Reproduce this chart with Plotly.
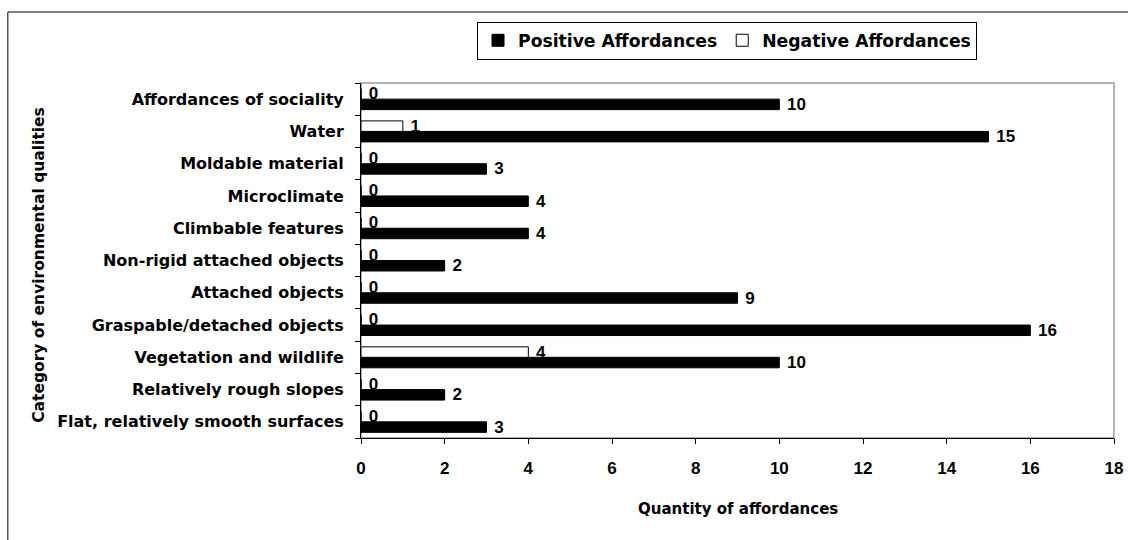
import plotly.graph_objects as go

categories = [
    "Flat, relatively smooth surfaces",
    "Relatively rough slopes",
    "Vegetation and wildlife",
    "Graspable/detached objects",
    "Attached objects",
    "Non-rigid attached objects",
    "Climbable features",
    "Microclimate",
    "Moldable material",
    "Water",
    "Affordances of sociality",
]
positive = [3, 2, 10, 16, 9, 2, 4, 4, 3, 15, 10]
negative = [0, 0, 4, 0, 0, 0, 0, 0, 0, 1, 0]
x_ticks = [0, 2, 4, 6, 8, 10, 12, 14, 16, 18]

WIDE = "DejaVu Sans, Liberation Sans, sans-serif"
NARROW = "Liberation Sans Narrow, Arial Narrow, Liberation Sans, sans-serif"

fig = go.Figure()
fig.add_trace(go.Bar(
    y=categories, x=positive, orientation="h", name="Positive Affordances",
    marker=dict(color="black", line=dict(color="black", width=1)),
    text=[" " + str(v) for v in positive], textposition="outside", constraintext="none",
    textfont=dict(family=NARROW, size=17, color="black", weight="bold"), cliponaxis=False,
))
fig.add_trace(go.Bar(
    y=categories, x=negative, orientation="h", name="Negative Affordances",
    marker=dict(color="white", line=dict(color="black", width=1)),
    text=[" " + str(v) for v in negative], textposition="outside", constraintext="none",
    textfont=dict(family=NARROW, size=17, color="black", weight="bold"), cliponaxis=False,
))

fig.update_layout(
    width=1128, height=540,
    margin=dict(l=361, r=14, t=83, b=102, autoexpand=False),
    paper_bgcolor="white", plot_bgcolor="white",
    barmode="group", bargap=0.35, bargroupgap=0,
    font=dict(family=WIDE, size=15, color="black"),
    showlegend=True,
    legend=dict(
        orientation="h", xref="container", yref="container",
        x=0.4229, y=0.96, xanchor="left", yanchor="top",
        bordercolor="black", borderwidth=1, bgcolor="white",
        font=dict(family=WIDE, size=17.2, color="black", weight="bold"),
        traceorder="normal", itemwidth=30,
    ),
    xaxis=dict(
        range=[0, 18], tickvals=x_ticks, showgrid=False, zeroline=False,
        showline=True, linecolor="black", linewidth=1, automargin=False,
        ticks="outside", ticklen=5, tickcolor="black", ticklabeloverflow="allow",
        ticklabelstandoff=10,
        tickfont=dict(family=NARROW, size=17, color="black", weight="bold"),
    ),
    yaxis=dict(
        type="category", showgrid=False, zeroline=False,
        showline=True, linecolor="black", linewidth=1, automargin=False,
        ticks="outside", ticklen=5, tickcolor="black", tickson="boundaries",
        ticklabelstandoff=13,
        tickfont=dict(family=WIDE, size=16, color="black", weight="bold"),
    ),
    annotations=[
        dict(text="Quantity of affordances", xref="paper", yref="paper",
             x=0.5, y=-0.2, xanchor="center", yanchor="middle", showarrow=False,
             font=dict(family=WIDE, size=15, color="black", weight="bold")),
        dict(text="Category of environmental qualities", xref="paper", yref="paper",
             x=-0.428, y=0.487, xanchor="center", yanchor="middle", showarrow=False, textangle=-90,
             font=dict(family=WIDE, size=15.5, color="black", weight="bold")),
    ],
    shapes=[
        dict(type="rect", xref="paper", yref="paper", x0=0, x1=1, y0=0, y1=1,
             line=dict(color="#999999", width=1.5), layer="below"),
        dict(type="rect", xref="paper", yref="paper", x0=-0.469, x1=1.05, y0=-0.4, y1=1.2,
             line=dict(color="black", width=1), layer="below"),
    ],
)

fig.write_html(
    "out.html",
    config={"displayModeBar": False},
    post_script="document.body.style.margin='0';document.body.style.overflow='hidden';",
)
